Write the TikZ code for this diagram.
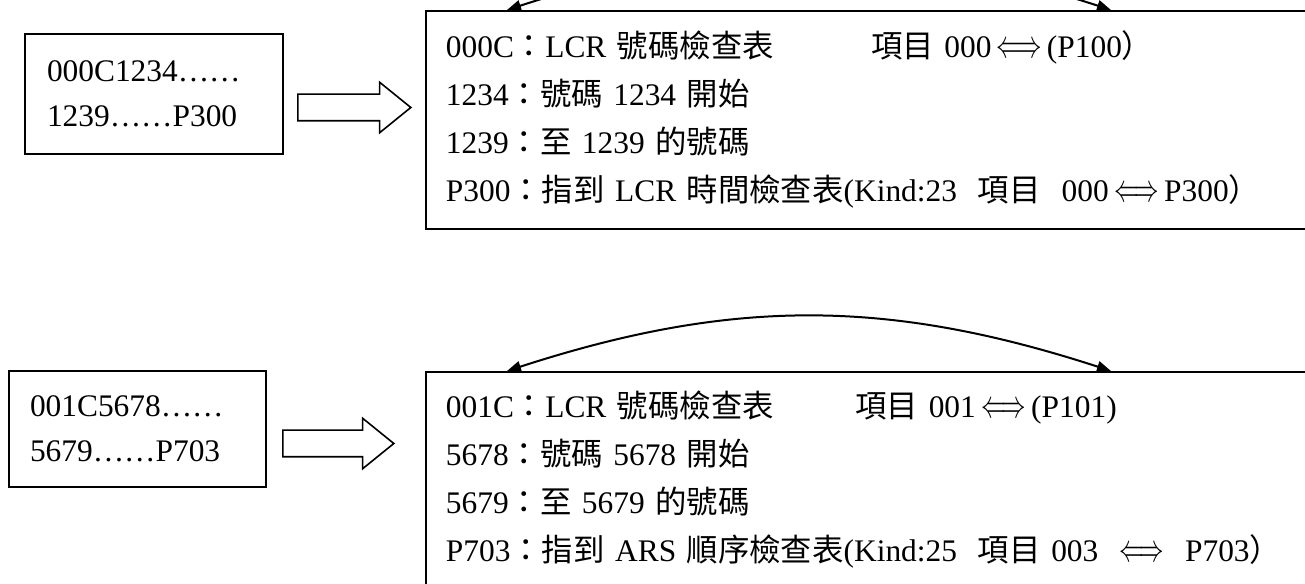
\documentclass[tikz,border=0pt]{standalone}
\usepackage{fontspec}
\setmainfont{Liberation Serif}
\newfontfamily\cjkfont{Noto Sans CJK TC}
\usepackage{xcolor}
\definecolor{cInk}{HTML}{000000}
\usepackage{tikz}
\usetikzlibrary{positioning,arrows.meta,shapes.arrows}
\newcommand{\zh}[1]{{\cjkfont #1}}
\newcommand{\dblarrow}{\scalebox{0.85}[1.35]{$\Longleftrightarrow$}}
\tikzset{
  node-src/.style={draw=cInk,line width=0.9pt,align=left,inner ysep=0pt,
    font=\fontsize{15.7}{22.5}\selectfont},
  node-tbl/.style={draw=cInk,line width=0.9pt,align=left,anchor=north west,
    inner xsep=10pt,inner ysep=0pt,text width=427.5pt,
    font=\fontsize{15.7}{24}\selectfont},
  % 空心粗箭头：来源 -> 检查表
  node-push/.style={single arrow,draw=cInk,line width=0.8pt,anchor=tail,
    inner xsep=0pt,inner ysep=6.25pt,single arrow head extend=6pt,
    single arrow tip angle=78},
  arrow-link/.style={{Triangle[length=7pt,width=5.5pt]}-{Triangle[length=7pt,width=5.5pt]},
    line width=1pt,draw=cInk},
}
\begin{document}
\begin{tikzpicture}[x=0.5pt,y=0.5pt]
  \useasboundingbox (0,0) rectangle (1305,583);
  \clip (0,0) rectangle (1305,583);
  % 上半：LCR 號碼
  \node[node-src,text width=107pt,inner xsep=11pt,minimum height=60pt] (srcA) at (154,489)
    {000C1234……\\1239……P300};
  \node[node-push,minimum height=56.5pt] (pushA) at (297,475.5) {};
  \node[node-tbl,minimum height=109pt] (tblA) at (425,573)
    {000C\zh{：}LCR \zh{號碼檢查表}\hspace{3.1em}\zh{項目} 000\,\dblarrow\,(P100\zh{）}\\
     1234\zh{：號碼} 1234 \zh{開始}\\
     1239\zh{：至} 1239 \zh{的號碼}\\
     P300\zh{：指到} LCR \zh{時間檢查表}(Kind:23\ \ \zh{項目}\ \ 000\,\dblarrow\,P300\zh{）}};
  \coordinate (tblA-p) at (507,573);
  \coordinate (tblA-q) at (1111,573);
  \draw[arrow-link] (tblA-p) to[bend left=18] (tblA-q);
  % 下半：ARS 順序
  \node[node-src,text width=107.5pt,inner xsep=10.5pt,minimum height=58pt] (srcB) at (137.5,154)
    {001C5678……\\5679……P703};
  \node[node-push,minimum height=55.5pt] (pushB) at (282,139.5) {};
  \node[node-tbl,minimum height=108pt] (tblB) at (425,212)
    {001C\zh{：}LCR \zh{號碼檢查表}\hspace{2.6em}\zh{項目} 001\,\dblarrow\,(P101)\\
     5678\zh{：號碼} 5678 \zh{開始}\\
     5679\zh{：至} 5679 \zh{的號碼}\\
     P703\zh{：指到} ARS \zh{順序檢查表}(Kind:25\ \ \zh{項目} 003\ \ \dblarrow\ \ P703\zh{）}};
  \coordinate (tblB-p) at (507,212);
  \coordinate (tblB-q) at (1111,212);
  \draw[arrow-link] (tblB-p) to[bend left=18] (tblB-q);
\end{tikzpicture}
\end{document}
